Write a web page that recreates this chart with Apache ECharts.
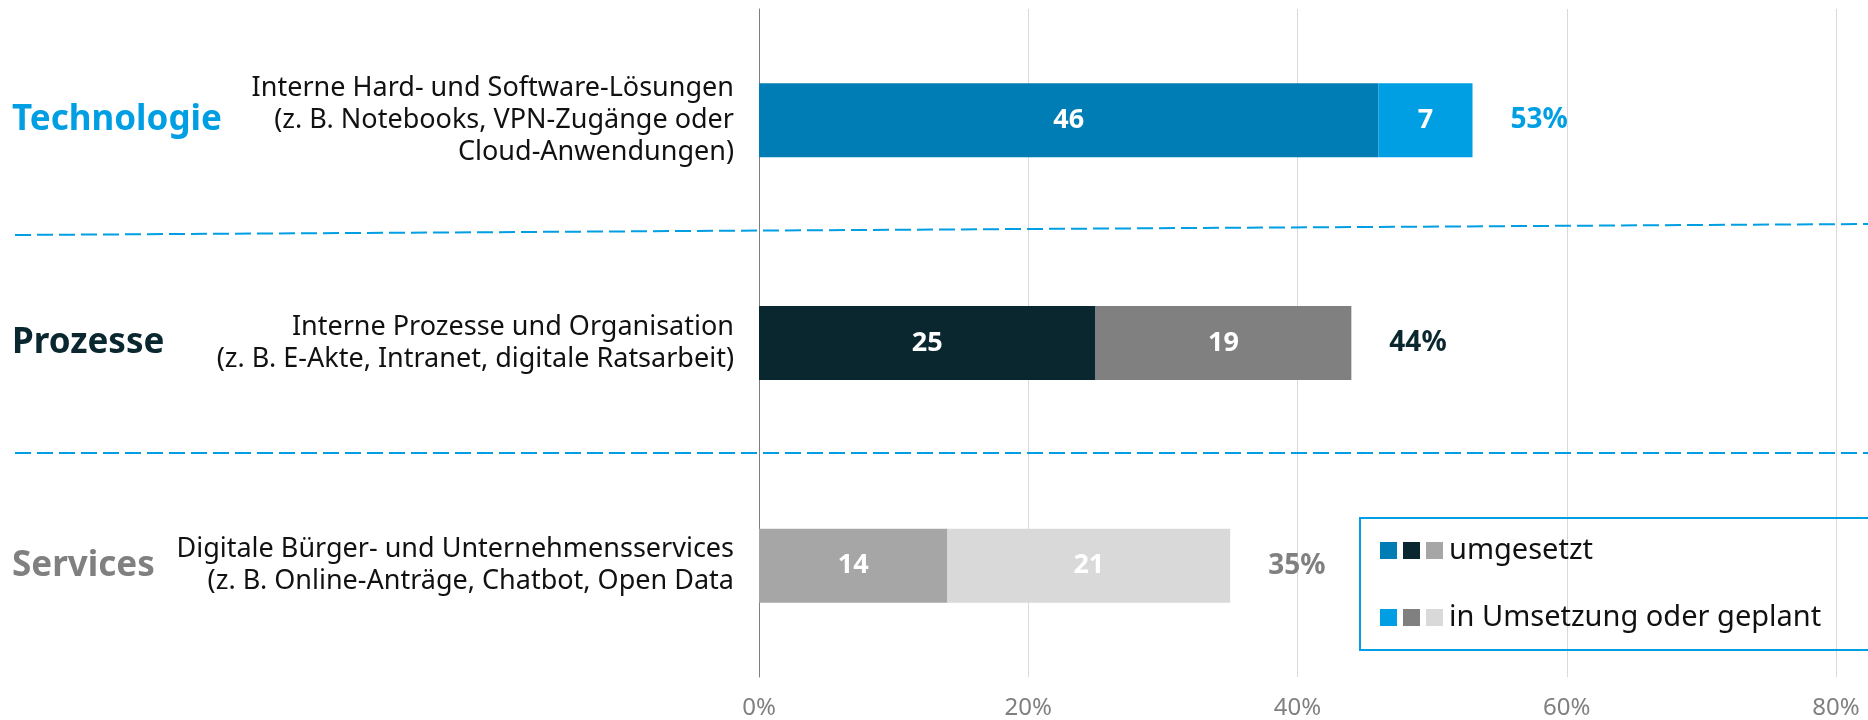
<!DOCTYPE html>
<html lang="de">

<head>
    <meta charset="UTF-8">
    <title>Digitalisierung</title>
    <script src="https://cdn.jsdelivr.net/npm/echarts@6.0.0/dist/echarts.min.js"></script>
    <style>
        html, body { margin: 0; padding: 0; background: #fff; }
    </style>
</head>

<body>
    <div id="main" style="width: 1868px;height: 720px"></div>
    <script type="text/javascript">
        // Daten
        var categories = ['Technologie', 'Prozesse', 'Services'];
        var descriptions = [
            'Interne Hard- und Software-Lösungen\n(z. B. Notebooks, VPN-Zugänge oder\nCloud-Anwendungen)',
            'Interne Prozesse und Organisation\n(z. B. E-Akte, Intranet, digitale Ratsarbeit)',
            'Digitale Bürger- und Unternehmensservices\n(z. B. Online-Anträge, Chatbot, Open Data'
        ];
        var umgesetzt = [46, 25, 14];
        var geplant = [7, 19, 21];
        var xTicks = [0, 20, 40, 60, 80];

        var colDone = ['#007DB4', '#0A2730', '#A6A6A6'];
        var colPlan = ['#009FE3', '#808080', '#D9D9D9'];
        var colTitle = ['#009FE3', '#0A2730', '#808080'];
        var font = '"Noto Sans", sans-serif';

        var myChart = echarts.init(document.getElementById('main'));

        var totals = umgesetzt.map(function (v, i) { return v + geplant[i]; });

        var option = {
            animation: false,
            textStyle: { fontFamily: font },
            grid: { left: 759, right: 32, top: 9, bottom: 43 },
            xAxis: {
                type: 'value',
                min: xTicks[0],
                max: xTicks[xTicks.length - 1],
                interval: xTicks[1] - xTicks[0],
                axisLine: { show: false },
                axisTick: { show: false },
                splitLine: { lineStyle: { color: '#D9D9D9', width: 1 } },
                axisLabel: { formatter: '{value}%', color: '#808080', fontSize: 24, margin: 19, fontFamily: font }
            },
            yAxis: [{
                type: 'category',
                data: categories,
                inverse: true,
                axisTick: { show: false },
                axisLine: { lineStyle: { color: '#7F7F7F', width: 1 } },
                axisLabel: {
                    margin: 25,
                    fontSize: 27,
                    lineHeight: 32,
                    color: '#111',
                    fontFamily: font,
                    formatter: function (v, i) { return descriptions[i]; }
                }
            }, {
                type: 'category',
                data: categories,
                inverse: true,
                position: 'left',
                axisTick: { show: false },
                axisLine: { show: false },
                axisLabel: {
                    margin: 747,
                    align: 'left',
                    formatter: function (v, i) { return '{t' + i + '|' + v + '}'; },
                    rich: {
                        t0: { color: colTitle[0], fontSize: 35, fontWeight: 'bold', fontFamily: font },
                        t1: { color: colTitle[1], fontSize: 35, fontWeight: 'bold', fontFamily: font },
                        t2: { color: colTitle[2], fontSize: 35, fontWeight: 'bold', fontFamily: font }
                    }
                }
            }],
            legend: {
                data: ['umgesetzt', 'in Umsetzung oder geplant'],
                orient: 'vertical',
                left: 1360,
                top: 518,
                icon: 'none',
                itemWidth: 0,
                itemGap: 38,
                padding: [18, 60, 18, 15],
                borderColor: '#009FE3',
                borderWidth: 2,
                selectedMode: false,
                formatter: function (name) {
                    if (name === 'umgesetzt') return '{a|}{g|}{b|}{g|}{c|}{g|}' + name;
                    return '{d|}{g|}{e|}{g|}{f|}{g|}' + name;
                },
                textStyle: {
                    fontSize: 29,
                    color: '#111',
                    fontFamily: font,
                    rich: {
                        a: { width: 17, height: 17, backgroundColor: colDone[0] },
                        b: { width: 17, height: 17, backgroundColor: colDone[1] },
                        c: { width: 17, height: 17, backgroundColor: colDone[2] },
                        d: { width: 17, height: 17, backgroundColor: colPlan[0] },
                        e: { width: 17, height: 17, backgroundColor: colPlan[1] },
                        f: { width: 17, height: 17, backgroundColor: colPlan[2] },
                        g: { width: 6, height: 17 }
                    }
                }
            },
            graphic: [{
                type: 'line',
                shape: { x1: 15, y1: 235, x2: 1868, y2: 224 },
                style: { stroke: '#009FE3', lineWidth: 2, lineDash: [16, 6] },
                z: 10
            }, {
                type: 'line',
                shape: { x1: 15, y1: 453, x2: 1868, y2: 453 },
                style: { stroke: '#009FE3', lineWidth: 2, lineDash: [16, 6] },
                z: 10
            }],
            series: [{
                name: 'umgesetzt',
                type: 'bar',
                stack: 'a',
                barWidth: 74,
                data: umgesetzt.map(function (v, i) { return { value: v, itemStyle: { color: colDone[i] } }; }),
                label: { show: true, position: 'inside', color: '#fff', fontSize: 27, fontWeight: 'bold', fontFamily: font }
            }, {
                name: 'in Umsetzung oder geplant',
                type: 'bar',
                stack: 'a',
                barWidth: 74,
                data: geplant.map(function (v, i) { return { value: v, itemStyle: { color: colPlan[i] } }; }),
                label: { show: true, position: 'inside', color: '#fff', fontSize: 27, fontWeight: 'bold', fontFamily: font }
            }, {
                name: 'gesamt',
                type: 'bar',
                stack: 'a',
                barWidth: 74,
                data: totals.map(function (t, i) {
                    return { value: 0, label: { color: colTitle[i] } };
                }),
                label: {
                    show: true,
                    position: 'right',
                    distance: 38,
                    fontSize: 28,
                    fontWeight: 'bold',
                    fontFamily: font,
                    formatter: function (p) { return totals[p.dataIndex] + '%'; }
                }
            }]
        };

        myChart.setOption(option);
    </script>
</body>

</html>
